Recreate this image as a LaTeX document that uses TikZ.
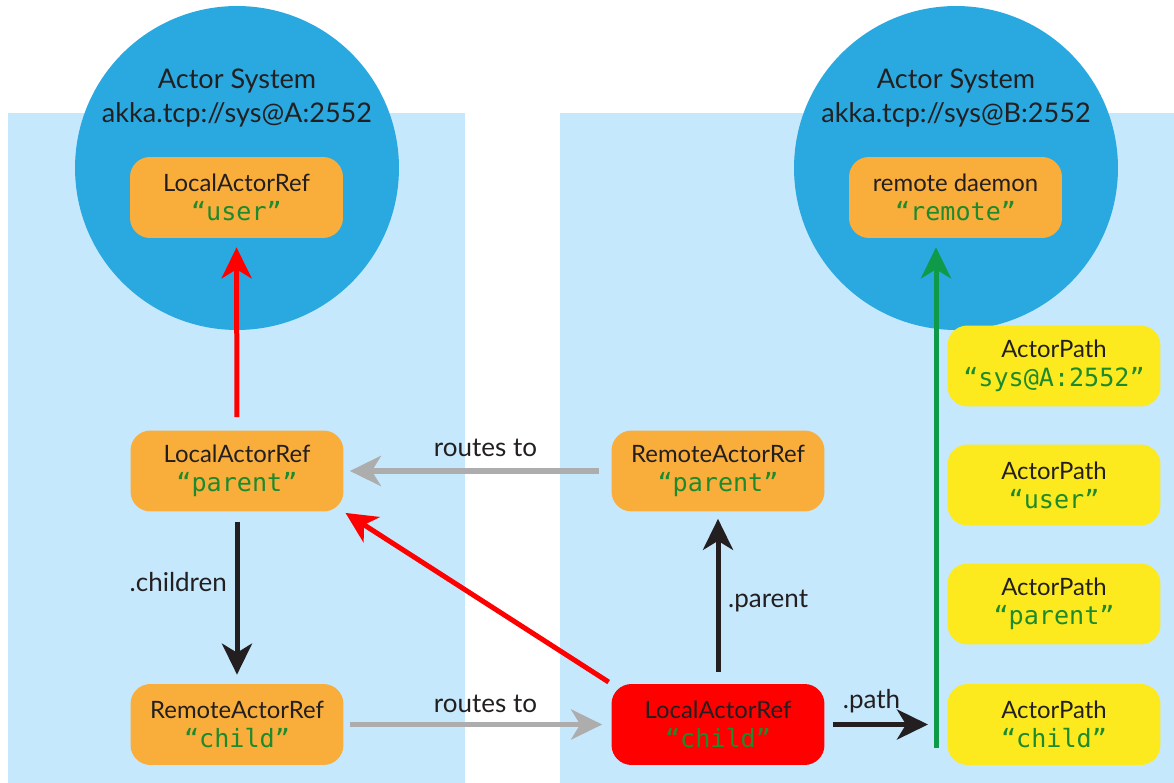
\documentclass[tikz,border=0pt]{standalone}
\usepackage{fontspec}
\setmainfont{Lato}
\newfontfamily\codefont{DejaVu Sans Mono}
\usetikzlibrary{arrows.meta}
\definecolor{panelc}{HTML}{C6E8FC}
\definecolor{circc}{HTML}{29A9E0}
\definecolor{orangec}{HTML}{F9AE3B}
\definecolor{yellowc}{HTML}{FCEA1E}
\definecolor{redc}{HTML}{FF0000}
\definecolor{codec}{HTML}{1E8A2E}
\definecolor{greenl}{HTML}{0E9A48}
\definecolor{grayl}{HTML}{ADADAD}
\definecolor{blackl}{HTML}{231F20}
\newcommand{\cq}[1]{{\codefont\fontsize{14.3}{16.5}\selectfont\color{codec}“#1”}}
\tikzset{
  refbox/.style={rounded corners=0.4cm, minimum width=4.26cm, minimum height=1.62cm,
    align=center, inner sep=0pt, font=\fontsize{13.6}{16.5}\selectfont, text=blackl},
  orangebox/.style={refbox, fill=orangec},
  redbox/.style={refbox, fill=redc},
  yellowbox/.style={refbox, fill=yellowc},
  syscirc/.style={circle, fill=circc, minimum size=6.48cm, inner sep=0pt},
  systext/.style={align=center, font=\fontsize{15.4}{19.5}\selectfont, text=blackl},
  lbl/.style={font=\fontsize{14.8}{17}\selectfont, text=blackl},
  blackarr/.style={draw=blackl, line width=0.1cm, -{Stealth[length=0.62cm, width=0.6cm, inset=0.18cm]}},
  grayarr/.style={draw=grayl, line width=0.11cm, -{Stealth[length=0.62cm, width=0.6cm, inset=0.18cm]}},
  redarr/.style={draw=redc, line width=0.1cm, -{Stealth[length=0.62cm, width=0.6cm, inset=0.18cm]}},
  greenarr/.style={draw=greenl, line width=0.1cm, -{Stealth[length=0.62cm, width=0.6cm, inset=0.18cm]}},
}
\begin{document}
\begin{tikzpicture}[x=0.02cm, y=-0.02cm]
\useasboundingbox (0,0) rectangle (1174,783);
% panels
\fill[panelc] (8,113) rectangle (465,783);
\fill[panelc] (560,113) rectangle (1174,783);
% actor system circles
\node[syscirc] (sysA) at (237,168) {};
\node[syscirc] (sysB) at (956,168) {};
\node[systext] (sysAt) at (237,98) {Actor System\\akka.tcp://sys@A:2552};
\node[systext] (sysBt) at (956,98) {Actor System\\akka.tcp://sys@B:2552};
% nodes
\node[orangebox] (user) at (236.5,197.5) {LocalActorRef\\\cq{user}};
\node[orangebox] (remote) at (955.5,197.5) {remote daemon\\\cq{remote}};
\node[orangebox] (pparent) at (237,471) {LocalActorRef\\\cq{parent}};
\node[orangebox] (rchild) at (237,724.5) {RemoteActorRef\\\cq{child}};
\node[orangebox] (rparent) at (718,471) {RemoteActorRef\\\cq{parent}};
\node[redbox] (lchild) at (718,724.5) {LocalActorRef\\\cq{child}};
\node[yellowbox] (pa1) at (1054,366) {ActorPath\\\cq{sys@A:2552}};
\node[yellowbox] (pa2) at (1054,485) {ActorPath\\\cq{user}};
\node[yellowbox] (pa3) at (1054,604) {ActorPath\\\cq{parent}};
\node[yellowbox] (pa4) at (1054,724.5) {ActorPath\\\cq{child}};
% connectors
\coordinate (gbot) at (936,748);
\coordinate (ptip) at (936,724.5);
\draw[redarr, shorten <=0.26cm, shorten >=0.18cm] (pparent.north) -- (user.south);
\draw[blackarr, shorten <=0.2cm, shorten >=0.18cm] (pparent.south) -- node[lbl, pos=0.41, left, xshift=-1pt] {.children} (rchild.north);
\draw[grayarr, shorten <=0.24cm, shorten >=0.12cm] (rparent.west) -- node[lbl, pos=0.47, above=3pt] {routes to} (pparent.east);
\draw[grayarr, shorten <=0.12cm, shorten >=0.18cm] (rchild.east) -- node[lbl, pos=0.53, above=2pt] {routes to} (lchild.west);
\draw[redarr, shorten <=0.06cm, shorten >=0.04cm] (lchild.north west) -- (pparent.south east);
\draw[blackarr, shorten <=0.24cm, shorten >=0.14cm] (lchild.north) -- node[lbl, pos=0.48, right, xshift=1pt] {.parent} (rparent.south);
\draw[blackarr, shorten <=0.16cm, shorten >=0.16cm] (lchild.east) -- node[lbl, pos=0.42, above=2pt] {.path} (ptip);
\draw[greenarr, shorten >=0.18cm] (gbot) -- (gbot |- remote.south);
\end{tikzpicture}
\end{document}
